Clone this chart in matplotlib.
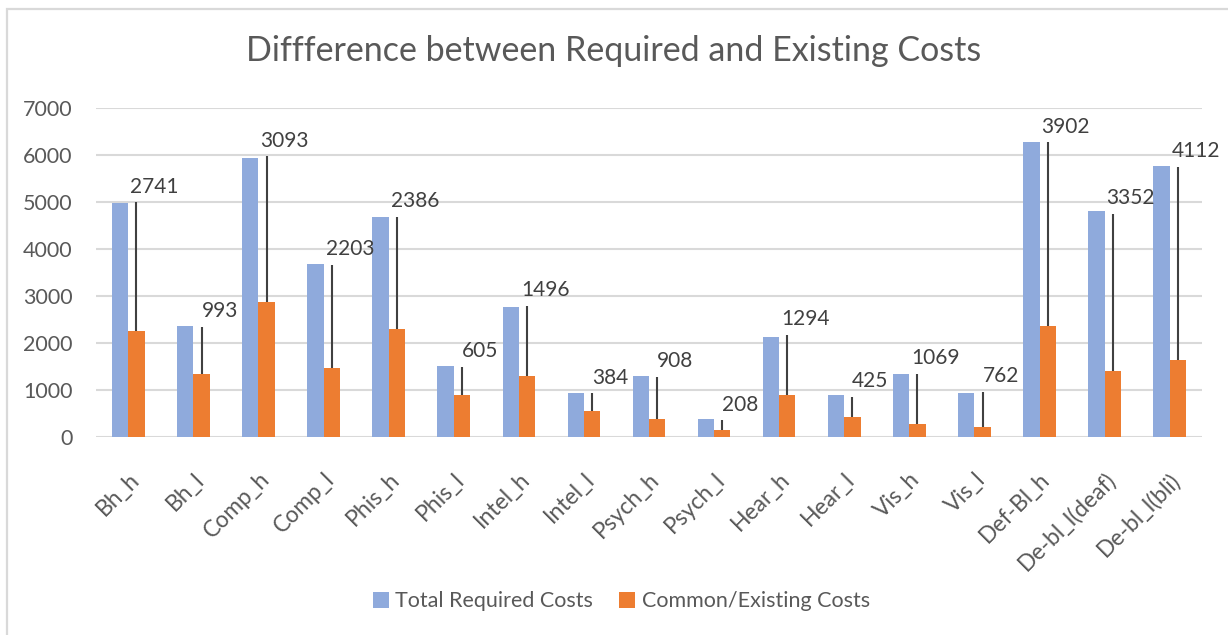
import numpy as np
import matplotlib
matplotlib.use('Agg')
import matplotlib.pyplot as plt
from matplotlib.patches import Rectangle

# ── Data ─────────────────────────────────────────────────────────────────────
categories = ["Bh_h", "Bh_l", "Comp_h", "Comp_l", "Phis_h", "Phis_l",
              "Intel_h", "Intel_l", "Psych_h", "Psych_l", "Hear_h", "Hear_l",
              "Vis_h", "Vis_l", "Def-Bl_h", "De-bl_l(deaf)", "De-bl_l(bli)"]
total_required = [4967, 2363, 5937, 3668, 4682, 1505, 2753, 937, 1285, 370,
                  2128, 880, 1334, 937, 6272, 4797, 5761]
common_existing = [2243, 1341, 2873, 1455, 2298, 880, 1285, 540, 370, 142,
                   880, 426, 263, 199, 2363, 1391, 1625]
difference = [2741, 993, 3093, 2203, 2386, 605, 1496, 384, 908, 208,
              1294, 425, 1069, 762, 3902, 3352, 4112]
y_ticks = [0, 1000, 2000, 3000, 4000, 5000, 6000, 7000]

BLUE = '#8FAADC'
ORANGE = '#ED7D31'
TEXT = '#595959'
GRID = '#D9D9D9'

plt.rcParams['font.family'] = ['Lato', 'DejaVu Sans']

fig = plt.figure(figsize=(12.28, 6.35), dpi=100)
ax = fig.add_axes([0.078, 0.3123, 0.901, 0.518])

# chart-area frame (top and left edges visible in the crop)
fig.patches.append(Rectangle((7 / 1228, -0.05), 1.1, 1 - 9 / 635 + 0.05,
                             transform=fig.transFigure, fill=False,
                             edgecolor=GRID, linewidth=1.6))

x = np.arange(len(categories))
w = 0.25
ax.bar(x - w / 2, total_required, width=w, color=BLUE,
       label='Total Required Costs', zorder=3)
ax.bar(x + w / 2, common_existing, width=w, color=ORANGE,
       label='Common/Existing Costs', zorder=3)

# difference lines from existing cost up by the difference
lows = np.array(common_existing)
highs = lows + np.array(difference)
ax.vlines(x + w / 2, lows, highs, color='#404040', linewidth=1.5, zorder=4)

for xi, top, d in zip(x, highs, difference):
    ax.annotate(str(d), (xi + w / 2, top), xytext=(13, 7),
                textcoords='offset points', ha='center', va='baseline',
                fontsize=15, color='#404040', zorder=5)

ax.set_xlim(-0.5, len(categories) - 0.5)
ax.set_ylim(0, 7000)
ax.set_yticks(y_ticks)
ax.set_yticklabels([str(v) for v in y_ticks])
ax.set_xticks(x)
ax.set_xticklabels(categories, rotation=45, ha='right', va='top',
                   rotation_mode='anchor')
ax.tick_params(axis='both', length=0, labelcolor=TEXT)
ax.tick_params(axis='x', pad=23, labelsize=16.5)
ax.tick_params(axis='y', pad=16.5, labelsize=15.5)
ax.grid(axis='y', color=GRID, linewidth=1.5, zorder=0)
for s in ax.spines.values():
    s.set_visible(False)

fig.suptitle("Diffference between Required and Existing Costs",
             y=0.92, va='center', fontsize=24.5, color=TEXT)

fig.legend(loc='center', bbox_to_anchor=(0.506, 0.053), ncol=2,
           frameon=False, fontsize=15.5, labelcolor=TEXT,
           handlelength=0.75, handleheight=0.75, handletextpad=0.3,
           columnspacing=1.2)

fig.savefig('out.png', dpi=100)
